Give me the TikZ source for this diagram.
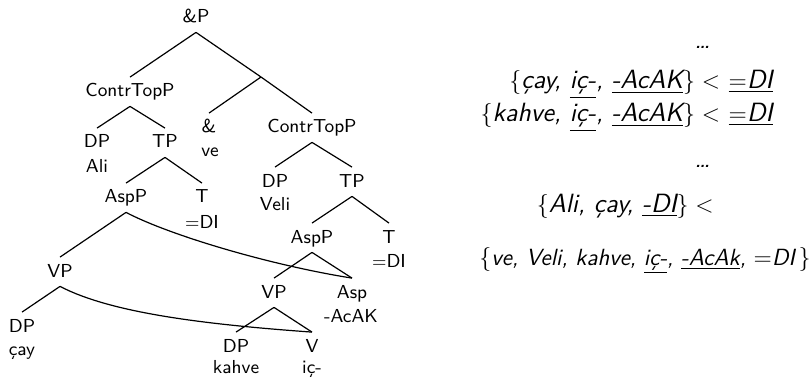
\documentclass[tikz,border=0pt]{standalone}
\begin{document}
\begin{tikzpicture}[x=0.5pt,y=-0.5pt,
  lbl/.style={font=\fontsize{9.4}{11}\selectfont\sffamily, inner xsep=0pt, inner ysep=2.5pt,
              text height=7.25pt, text depth=2pt, anchor=base},
  leaf/.style={font=\fontsize{9.4}{11}\selectfont\sffamily, inner sep=0pt, anchor=base},
  br/.style={line width=0.6pt},
  seq/.style={font=\fontsize{13.2}{15}\selectfont\sffamily\itshape, inner sep=0pt},
  seqsmall/.style={font=\fontsize{11.7}{14}\selectfont\sffamily\itshape, inner sep=0pt}]
\useasboundingbox (0,0) rectangle (812,379);

% tree labels
\node[lbl] (andP) at (196,23) {\&P};
\coordinate (andbar) at (261,77);
\node[lbl] (ctl) at (130,97) {ContrTopP};
\node[lbl] (dpA) at (97,148) {DP};
\node[leaf] (ali) at (97,173) {Ali};
\node[lbl] (tpl) at (165,148) {TP};
\node[lbl] (amp) at (209,133) {\&};
\node[leaf] (ve) at (210,157) {ve};
\node[lbl] (ctr) at (312,133) {ContrTopP};
\node[lbl] (dpV) at (275,187) {DP};
\node[leaf] (veli) at (275,211) {Veli};
\node[lbl] (tpr) at (352,187) {TP};
\node[lbl] (aspPl) at (126,203) {AspP};
\node[lbl] (tl) at (202,203) {T};
\node[leaf] (dil) at (202,228) {$=$DI};
\node[lbl] (aspPr) at (312,243) {AspP};
\node[lbl] (tr) at (389,243) {T};
\node[leaf] (dir) at (389,267) {$=$DI};
\node[lbl] (vpl) at (60,277) {VP};
\node[lbl] (vpr) at (274,298) {VP};
\node[lbl] (asp) at (352,298) {Asp};
\node[leaf] (acak) at (351,322) {-AcAK};
\node[lbl] (dpc) at (22,332) {DP};
\node[leaf] (cay) at (22,355) {çay};
\node[lbl] (dpk) at (236,352) {DP};
\node[leaf] (kahve) at (236,373) {kahve};
\node[lbl] (v) at (312,352) {V};
\node[leaf] (ic) at (312,373) {iç-};

% branches
\draw[br] (andP.south) -- (ctl.north);
\draw[br] (andP.south) -- (andbar) -- (ctr.north);
\draw[br] (andbar) -- (amp.north);
\draw[br] (ctl.south) -- (dpA.north);
\draw[br] (ctl.south) -- (tpl.north);
\draw[br] (ctr.south) -- (dpV.north);
\draw[br] (ctr.south) -- (tpr.north);
\draw[br] (tpl.south) -- (aspPl.north);
\draw[br] (tpl.south) -- (tl.north);
\draw[br] (tpr.south) -- (aspPr.north);
\draw[br] (tpr.south) -- (tr.north);
\draw[br] (aspPl.south) -- (vpl.north);
\draw[br] (aspPr.south) -- (vpr.north);
\draw[br] (aspPr.south) -- (asp.north);
\draw[br] (vpl.south) -- (dpc.north);
\draw[br] (vpr.south) -- (dpk.north);
\draw[br] (vpr.south) -- (v.north);

% movement curves
\draw[br] (aspPl.south) .. controls +(44,23) and +(-82,-13) .. (asp.north);
\draw[br] (vpl.south) .. controls +(50,26) and +(-112,-8) .. (v.north);

% linearization statements
\node[seq, anchor=base east] (dots1) at (711,49) {\dots};
\node[seq, anchor=base east] (r1) at (773,89)
  {$\{$çay, \underline{iç-}, \underline{-AcAK}$\}<$ \underline{$=$DI}};
\node[seq, anchor=base east] (r2) at (773,122)
  {$\{$kahve, \underline{iç-}, \underline{-AcAK}$\}<$ \underline{$=$DI}};
\node[seq, anchor=base east] (dots2) at (711,168) {\dots};
\node[seq, anchor=base east] (r3) at (714,213)
  {$\{$Ali, çay, \underline{-DI}$\}<$};
\node[seqsmall, anchor=base west] (r4) at (479,265)
  {$\{$ve, Veli, kahve, \underline{iç-}, \underline{-AcAk}, $=$DI\,$\}$};
\end{tikzpicture}
\end{document}
